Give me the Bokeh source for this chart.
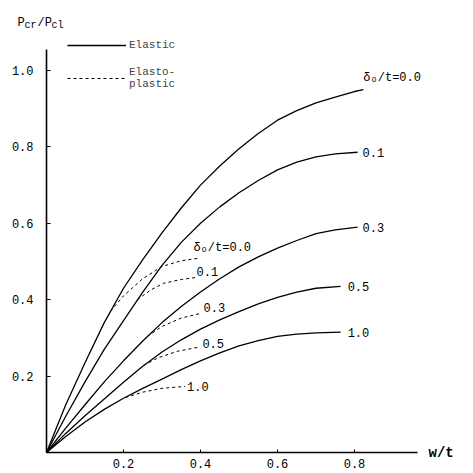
from bokeh.plotting import figure
from bokeh.models import Range1d, FixedTicker, Label, Legend, LegendItem
from bokeh.core.properties import value
from bokeh.embed import file_html
from bokeh.resources import INLINE

FONT = "Liberation Mono"

# ---------------- data ----------------
x_ticks = [0.2, 0.4, 0.6, 0.8]
x_tick_labels = ["0.2", "0.4", "0.6", "0.8"]
y_ticks = [0.2, 0.4, 0.6, 0.8, 1.0]
y_tick_labels = ["0.2", "0.4", "0.6", "0.8", "1.0"]

ratio_labels = ["0.0", "0.1", "0.3", "0.5", "1.0"]

# elastic curves (solid)
el_00_x = [0, 0.05, 0.10, 0.15, 0.20, 0.25, 0.30, 0.35, 0.40, 0.45, 0.50, 0.55, 0.60, 0.65, 0.70, 0.75, 0.80, 0.823]
el_00_y = [0, 0.125, 0.235, 0.34, 0.43, 0.505, 0.575, 0.64, 0.70, 0.75, 0.795, 0.835, 0.87, 0.895, 0.915, 0.93, 0.945, 0.95]
el_01_x = [0, 0.05, 0.10, 0.15, 0.20, 0.25, 0.30, 0.35, 0.40, 0.45, 0.50, 0.55, 0.60, 0.65, 0.70, 0.75, 0.808]
el_01_y = [0, 0.095, 0.185, 0.27, 0.345, 0.42, 0.49, 0.55, 0.60, 0.643, 0.68, 0.712, 0.74, 0.76, 0.774, 0.782, 0.786]
el_03_x = [0, 0.05, 0.10, 0.15, 0.20, 0.25, 0.30, 0.35, 0.40, 0.45, 0.50, 0.55, 0.60, 0.65, 0.70, 0.75, 0.808]
el_03_y = [0, 0.064, 0.125, 0.185, 0.24, 0.292, 0.34, 0.382, 0.42, 0.455, 0.486, 0.512, 0.535, 0.555, 0.573, 0.583, 0.59]
el_05_x = [0, 0.05, 0.10, 0.15, 0.20, 0.25, 0.30, 0.35, 0.40, 0.45, 0.50, 0.55, 0.60, 0.65, 0.70, 0.764]
el_05_y = [0, 0.05, 0.096, 0.14, 0.184, 0.226, 0.263, 0.295, 0.323, 0.347, 0.369, 0.389, 0.406, 0.42, 0.43, 0.435]
el_10_x = [0, 0.05, 0.10, 0.15, 0.20, 0.25, 0.30, 0.35, 0.40, 0.45, 0.50, 0.55, 0.60, 0.65, 0.70, 0.764]
el_10_y = [0, 0.042, 0.08, 0.113, 0.142, 0.168, 0.192, 0.217, 0.24, 0.261, 0.279, 0.293, 0.304, 0.31, 0.313, 0.315]

# elasto-plastic curves (dashed)
pl_00_x = [0.166, 0.20, 0.25, 0.30, 0.35, 0.392]
pl_00_y = [0.37, 0.41, 0.455, 0.487, 0.502, 0.508]
pl_01_x = [0.236, 0.27, 0.304, 0.35, 0.387]
pl_01_y = [0.40, 0.425, 0.443, 0.453, 0.458]
pl_03_x = [0.262, 0.30, 0.35, 0.40]
pl_03_y = [0.304, 0.33, 0.352, 0.364]
pl_05_x = [0.252, 0.29, 0.34, 0.392]
pl_05_y = [0.228, 0.248, 0.265, 0.275]
pl_10_x = [0.205, 0.25, 0.30, 0.36]
pl_10_y = [0.144, 0.158, 0.168, 0.173]

elastic = [(el_00_x, el_00_y), (el_01_x, el_01_y), (el_03_x, el_03_y),
           (el_05_x, el_05_y), (el_10_x, el_10_y)]
plastic = [(pl_00_x, pl_00_y), (pl_01_x, pl_01_y), (pl_03_x, pl_03_y),
           (pl_05_x, pl_05_y), (pl_10_x, pl_10_y)]

# ---------------- figure ----------------
W = H = 473
p = figure(width=W, height=H,
           x_range=Range1d(-46 / 385, (W - 46) / 385),
           y_range=Range1d(-(H - 452) / 382, 452 / 382),
           output_backend="svg", toolbar_location=None,
           min_border=0, min_border_left=0, min_border_right=0,
           min_border_top=0, min_border_bottom=0)
p.outline_line_color = None
p.grid.visible = False
p.background_fill_color = "white"
p.border_fill_color = "white"

for ax in (p.xaxis[0], p.yaxis[0]):
    ax.fixed_location = 0
    ax.axis_line_width = 1.6
    ax.axis_line_color = "black"
    ax.major_tick_line_color = "black"
    ax.major_tick_out = 0
    ax.minor_tick_line_color = None
    ax.major_label_text_font = FONT
    ax.major_label_text_font_size = "12px"
    ax.major_label_text_color = "black"

p.xaxis.bounds = (0, 0.964)
p.xaxis.ticker = FixedTicker(ticks=x_ticks)
p.xaxis.major_label_overrides = dict(zip(x_ticks, x_tick_labels))
p.xaxis.major_tick_in = 3
p.xaxis.major_label_standoff = 6

p.yaxis.bounds = (0, 1.055)
p.yaxis.ticker = FixedTicker(ticks=y_ticks)
p.yaxis.major_label_overrides = dict(zip(y_ticks, y_tick_labels))
p.yaxis.major_tick_in = 4
p.yaxis.major_label_standoff = 13

# curves
el_renderers = []
for xs, ys in elastic:
    el_renderers.append(p.line(xs, ys, line_color="black", line_width=1.3))
pl_renderers = []
for xs, ys in plastic:
    pl_renderers.append(p.line(xs, ys, line_color="black", line_width=1.0,
                               line_dash="3 3"))

# curve labels
el_offsets = [(0, -12), (5, 0), (5, 0), (7, 0), (7, 0)]
pl_offsets = [(-4, -10), (1, -6), (3, -6), (5, -4), (2, 0)]
for i, ((xs, ys), lab) in enumerate(zip(elastic, ratio_labels)):
    txt = ("δₒ/t=" + lab) if i == 0 else lab
    p.text(x=[xs[-1]], y=[ys[-1]], text=[txt],
           x_offset=el_offsets[i][0], y_offset=el_offsets[i][1],
           text_font=value(FONT), text_font_size="12px",
           text_baseline="middle", text_align="left", text_color="black")
for i, ((xs, ys), lab) in enumerate(zip(plastic, ratio_labels)):
    txt = ("δₒ/t=" + lab) if i == 0 else lab
    p.text(x=[xs[-1]], y=[ys[-1]], text=[txt],
           x_offset=pl_offsets[i][0], y_offset=pl_offsets[i][1],
           text_font=value(FONT), text_font_size="12px",
           text_baseline="middle", text_align="left", text_color="black")

# legend (bottom-left of legend box given from bottom of frame)
legend = Legend(items=[LegendItem(label="Elastic", renderers=[el_renderers[0]]),
                       LegendItem(label="Elasto-\nplastic", renderers=[pl_renderers[0]])],
                location=(67, H - 90), margin=0, padding=0,
                border_line_color=None, background_fill_alpha=0,
                label_text_font=FONT, label_text_font_size="11px",
                glyph_width=59, glyph_height=14, label_height=14,
                label_standoff=3, spacing=14)
p.add_layout(legend)

# axis titles
def lab(px, py, t, size, bold=False, baseline="alphabetic"):
    p.add_layout(Label(x=(px - 46) / 385, y=(452 - py) / 382, text=t,
                       text_font=FONT, text_font_size=size,
                       text_baseline=baseline, text_color="black",
                       text_font_style="bold" if bold else "normal"))

lab(17, 22, "P", "12px")
lab(24, 25, "cr", "10px")
lab(37, 22, "/P", "12px")
lab(51, 25, "cl", "10px")
lab(428, 452, "w/t", "14px", bold=True, baseline="middle")

open("out.html", "w").write(file_html(p, INLINE))
